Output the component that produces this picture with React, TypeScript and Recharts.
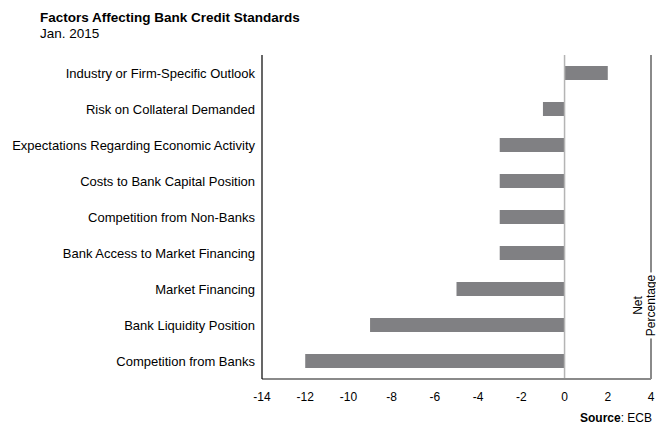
import React from 'react';
import { BarChart, Bar, XAxis, YAxis, ReferenceLine } from 'recharts';

const categories = [
  'Industry or Firm-Specific Outlook',
  'Risk on Collateral Demanded',
  'Expectations Regarding Economic Activity',
  'Costs to Bank Capital Position',
  'Competition from Non-Banks',
  'Bank Access to Market Financing',
  'Market Financing',
  'Bank Liquidity Position',
  'Competition from Banks',
];
const values = [2, -1, -3, -3, -3, -3, -5, -9, -12];
const xTicks = [-14, -12, -10, -8, -6, -4, -2, 0, 2, 4];

const data = categories.map((name, i) => ({ name, value: values[i] }));

const FONT = '"Liberation Sans", Arial, Helvetica, sans-serif';

function CategoryTick(props: any) {
  const { x, y, payload } = props;
  return (
    <text
      x={x}
      y={y}
      dy="0.36em"
      textAnchor="end"
      fontSize={13}
      fontFamily={FONT}
      fill="#000"
    >
      {payload.value}
    </text>
  );
}

function NetLabel(props: any) {
  const vb = props.viewBox || {};
  const x = vb.x + (vb.width || 0);
  const cy = vb.y + vb.height * 0.773;
  return (
    <g>
      <rect x={x - 6} y={cy - 33} width={12} height={66} fill="#fff" />
      <text
        transform={`translate(${x - 13},${cy}) rotate(-90)`}
        textAnchor="middle"
        dominantBaseline="central"
        fontSize={12}
        fontFamily={FONT}
        fill="#000"
      >
        Net
      </text>
      <text
        transform={`translate(${x - 0.5},${cy}) rotate(-90)`}
        textAnchor="middle"
        dominantBaseline="central"
        fontSize={12}
        fontFamily={FONT}
        fill="#000"
      >
        Percentage
      </text>
    </g>
  );
}

export default function App() {
  return (
    <div style={{ position: 'absolute', left: 0, top: 0, width: 656, height: 426, background: '#fff' }}>
      <BarChart
        width={656}
        height={426}
        data={data}
        layout="vertical"
        margin={{ top: 55, right: 5, bottom: 0, left: 0 }}
        style={{ fontFamily: FONT }}
      >
        <XAxis
          type="number"
          domain={[-14, 4]}
          ticks={xTicks}
          interval={0}
          height={47}
          tickLine={false}
          tickSize={0}
          tickMargin={13}
          axisLine={{ stroke: '#8a8a8a', strokeWidth: 2 }}
          tick={{ fontSize: 12, fill: '#000', fontFamily: FONT }}
        />
        <XAxis
          xAxisId="top"
          orientation="top"
          type="number"
          domain={[-14, 4]}
          height={0}
          tick={false}
          tickLine={false}
          axisLine={{ stroke: '#555', strokeWidth: 1.5 }}
        />
        <YAxis
          type="category"
          dataKey="name"
          width={262}
          tickLine={false}
          tickSize={0}
          tickMargin={7}
          interval={0}
          axisLine={{ stroke: '#000', strokeWidth: 1.2 }}
          tick={<CategoryTick />}
        />
        <ReferenceLine x={0} stroke="#b4b4b4" strokeWidth={1.5} />
        <Bar dataKey="value" fill="#808083" barSize={14} isAnimationActive={false} />
        <ReferenceLine x={4} stroke="#8a8a8a" strokeWidth={2} label={<NetLabel />} />
      </BarChart>
      <svg
        width={656}
        height={426}
        style={{ position: 'absolute', left: 0, top: 0, pointerEvents: 'none' }}
      >
        <text x={40} y={22} fontSize={13.5} fontWeight="bold" fontFamily={FONT} fill="#000">
          Factors Affecting Bank Credit Standards
        </text>
        <text x={40} y={38} fontSize={13.5} fontFamily={FONT} fill="#000">
          Jan. 2015
        </text>
        <text x={652} y={422} fontSize={12} fontFamily={FONT} fill="#000" textAnchor="end">
          <tspan fontWeight="bold">Source</tspan>
          <tspan>: ECB</tspan>
        </text>
      </svg>
    </div>
  );
}
